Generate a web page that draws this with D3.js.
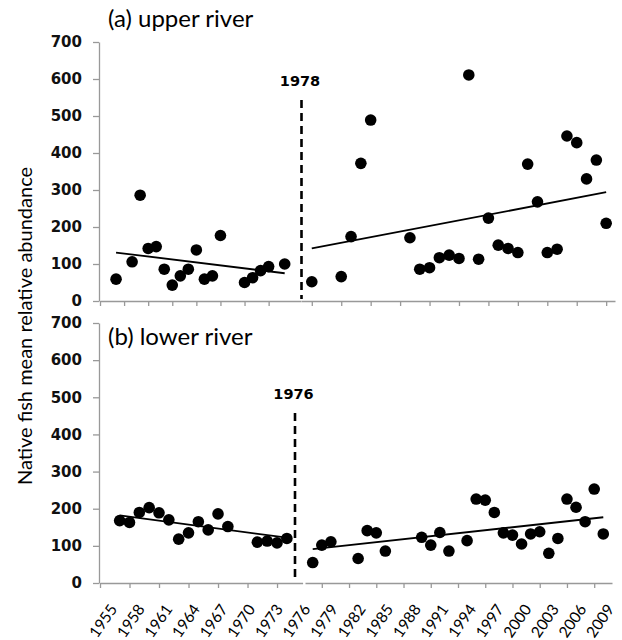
<!DOCTYPE html>
<html>
<head>
<meta charset="utf-8">
<style>
  body { margin: 0; background: #fff; }
  svg { display: block; }
  .ytick text { font-family: "DejaVu Sans", sans-serif; font-weight: bold; font-size: 15px; fill: #111; }
  .axis path, .axis line { stroke: #999; stroke-width: 1.3; }
</style>
<title>Native fish abundance</title>
</head>
<body>
<script src="https://cdn.jsdelivr.net/npm/d3@7"></script>
<script>

// data //////////////////////////////////////////////////////////////////////

var yTicks = [0, 100, 200, 300, 400, 500, 600, 700];
var xLabels = ['1955','1958','1961','1964','1967','1970','1973','1976','1979','1982',
               '1985','1988','1991','1994','1997','2000','2003','2006','2009'];

// (a) upper river, before and after 1978
var upperPreYears  = [1957, 1959, 1960, 1961, 1962, 1963, 1964, 1965, 1966, 1967, 1968, 1969, 1970, 1973, 1974, 1975, 1976, 1978];
var upperPreValues = [  59,  106,  286,  142,  147,   86,   43,   68,   86,  138,   59,   68,  177,   50,   63,   82,   93,  100];
var upperPostYears  = [1979, 1982, 1983, 1984, 1985, 1989, 1990, 1991, 1992, 1993, 1994, 1995, 1996, 1997, 1998, 1999, 2000,
                       2001, 2002, 2003, 2004, 2005, 2006, 2007, 2008, 2009];
var upperPostValues = [  52,   66,  174,  372,  489,  171,   86,   90,  117,  124,  115,  611,  113,  224,  151,  142,  131,
                        370,  268,  131,  140,  446,  428,  330,  381,  210];
var upperPreTrend  = [[1957, 131], [1978, 75]];
var upperPostTrend = [[1979, 142], [2009, 294]];

// (b) lower river, before and after 1976
var lowerPreYears  = [1959, 1960, 1961, 1962, 1963, 1964, 1965, 1966, 1967, 1968, 1969, 1970, 1973, 1974, 1975, 1976];
var lowerPreValues = [ 168,  163,  190,  203,  189,  170,  118,  135,  165,  143,  186,  152,  110,  113,  108,  120];
var lowerPostYears  = [1977, 1978, 1979, 1982, 1983, 1984, 1985, 1989, 1990, 1991, 1992, 1994, 1995, 1996, 1997, 1998,
                       1999, 2000, 2001, 2002, 2003, 2004, 2005, 2006, 2007, 2008, 2009];
var lowerPostValues = [  55,  102,  111,   66,  141,  135,   86,  123,  102,  136,   86,  114,  226,  223,  190,  135,
                        129,  105,  132,  138,   80,  120,  226,  204,  165,  253,  132];
var lowerPreTrend  = [[1959, 182], [1976, 122]];
var lowerPostTrend = [[1977, 91], [2009, 177]];

// layout ////////////////////////////////////////////////////////////////////

var axisX = 99;

var panels = [
  {
    title: '(a) upper river', titleY: 27, yBottom: 301, yTop: 42,
    breakYear: '1978', breakX: 301.5, breakTop: 543,
    segments: [
      {domain: [1955, 1980], range: [100, 300.75], ticks: d3.range(1955, 1977, 3),
       years: upperPreYears, values: upperPreValues, trend: upperPreTrend},
      {domain: [1977.9, 2009.9], range: [301, 615], ticks: d3.range(1979, 2010, 3),
       years: upperPostYears, values: upperPostValues, trend: upperPostTrend},
    ],
  },
  {
    title: '(b) lower river', titleY: 345, yBottom: 583, yTop: 323,
    breakYear: '1976', breakX: 295, breakTop: 458,
    segments: [
      {domain: [1957, 1977.6], range: [100, 302.6], ticks: d3.range(1957, 1976, 3),
       years: lowerPreYears, values: lowerPreValues, trend: lowerPreTrend},
      {domain: [1976.15, 2009.96], range: [305, 612], ticks: d3.range(1978, 2009, 3),
       years: lowerPostYears, values: lowerPostValues, trend: lowerPostTrend},
    ],
  },
];

var svg = d3.select('body').append('svg')
    .attr('width', 622)
    .attr('height', 640);

// panels ////////////////////////////////////////////////////////////////////

for (let p of panels) {
  let y = d3.scaleLinear().domain([0, 700]).range([p.yBottom, p.yTop]);

  svg.append('g')
      .attr('class', 'axis ytick')
      .attr('transform', `translate(${axisX},0)`)
      .call(d3.axisLeft(y).tickValues(yTicks).tickSize(6).tickSizeOuter(0).tickPadding(11));

  for (let s of p.segments) {
    let x = d3.scaleLinear().domain(s.domain).range(s.range);

    svg.append('g')
        .attr('class', 'axis')
        .attr('transform', `translate(0,${p.yBottom})`)
        .call(d3.axisBottom(x).tickValues(s.ticks).tickSize(5).tickSizeOuter(0).tickFormat(''));

    svg.append('path')
        .attr('d', d3.line().x(d => x(d[0])).y(d => y(d[1]))(s.trend))
        .attr('fill', 'none')
        .attr('stroke', '#000')
        .attr('stroke-width', 1.8);

    svg.append('g')
      .selectAll('circle')
      .data(s.years.map((yr, i) => [yr, s.values[i]]))
      .join('circle')
        .attr('cx', d => x(d[0]))
        .attr('cy', d => y(d[1]))
        .attr('r', 5.8)
        .attr('fill', '#000');
  }

  // break line
  svg.append('line')
      .attr('x1', p.breakX).attr('x2', p.breakX)
      .attr('y1', y(p.breakTop)).attr('y2', y(0) - 2)
      .attr('stroke', '#000')
      .attr('stroke-width', 2.6)
      .attr('stroke-dasharray', '8,5');

  svg.append('text')
      .attr('x', p.breakX - 1.5)
      .attr('y', y(p.breakTop) - 14)
      .attr('text-anchor', 'middle')
      .style('font-family', '"DejaVu Sans", sans-serif')
      .style('font-weight', 'bold')
      .style('font-size', '14.5px')
      .text(p.breakYear);

  svg.append('text')
      .attr('x', 108)
      .attr('y', p.titleY)
      .style('font-family', 'Lato, sans-serif')
      .style('font-size', '24px')
      .text(p.title);
}

// shared year labels ////////////////////////////////////////////////////////

var xl = d3.scalePoint().domain(xLabels).range([109, 606]);

svg.append('g')
  .selectAll('text')
  .data(xLabels)
  .join('text')
    .attr('transform', d => `translate(${xl(d)},603) rotate(-55)`)
    .attr('text-anchor', 'end')
    .attr('dy', '0.7em')
    .style('font-family', 'Lato, sans-serif')
    .style('font-size', '15.5px')
    .text(d => d);

svg.append('text')
    .attr('transform', 'translate(24,326) rotate(-90)')
    .attr('text-anchor', 'middle')
    .attr('dominant-baseline', 'central')
    .style('font-family', 'Lato, sans-serif')
    .style('font-size', '20px')
    .text('Native fish mean relative abundance');

</script>
</body>
</html>
